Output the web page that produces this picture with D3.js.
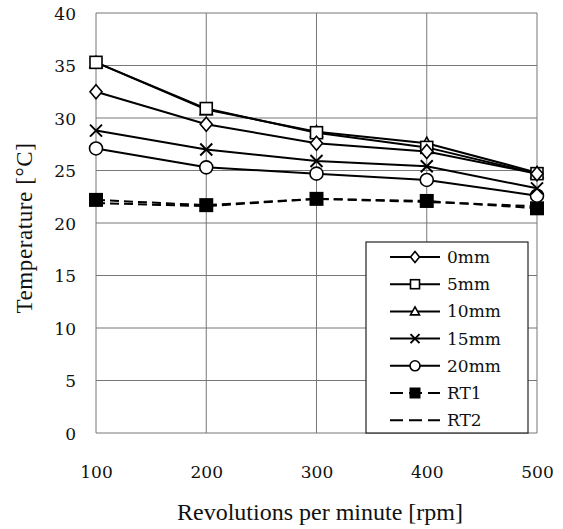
<!DOCTYPE html>
<html>
<head>
<meta charset="utf-8">
<script src="https://cdn.jsdelivr.net/npm/d3@7"></script>
<style>
  body { margin: 0; background: #fff; }
  text { font-family: "Liberation Serif", "DejaVu Serif", serif; fill: #111; }
</style>
</head>
<body>
<script>
// data
const rpm = [100, 200, 300, 400, 500];
const xTicks = [100, 200, 300, 400, 500];
const yTicks = [0, 5, 10, 15, 20, 25, 30, 35, 40];

const mm0  = [32.5, 29.4, 27.6, 26.8, 24.7];
const mm5  = [35.3, 30.9, 28.6, 27.2, 24.7];
const mm10 = [35.3, 30.8, 28.7, 27.6, 24.8];
const mm15 = [28.8, 27.0, 25.9, 25.4, 23.3];
const mm20 = [27.1, 25.3, 24.7, 24.1, 22.6];
const rt1  = [22.2, 21.7, 22.3, 22.1, 21.4];
const rt2  = [21.9, 21.6, 22.3, 22.0, 21.6];

const series = [
  { name: "0mm",  values: mm0,  marker: "diamond",  dash: null },
  { name: "5mm",  values: mm5,  marker: "square",   dash: null },
  { name: "10mm", values: mm10, marker: "triangle", dash: null },
  { name: "15mm", values: mm15, marker: "cross",    dash: null },
  { name: "20mm", values: mm20, marker: "circle",   dash: null },
  { name: "RT1",  values: rt1,  marker: "filled",   dash: "9,5" },
  { name: "RT2",  values: rt2,  marker: "none",     dash: "9,5" }
];

const W = 563, H = 529;
const m = { left: 96, right: 26, top: 13, bottom: 96 };

const svg = d3.select("body").append("svg")
  .attr("width", W).attr("height", H);

const x = d3.scaleLinear().domain([100, 500]).range([m.left, W - m.right]);
const y = d3.scaleLinear().domain([0, 40]).range([H - m.bottom, m.top]);

// grid
svg.append("g").selectAll("line.h").data(yTicks).join("line")
  .attr("x1", x(100)).attr("x2", x(500))
  .attr("y1", d => y(d)).attr("y2", d => y(d))
  .attr("stroke", "#777").attr("stroke-width", 1);
svg.append("g").selectAll("line.v").data(xTicks).join("line")
  .attr("x1", d => x(d)).attr("x2", d => x(d))
  .attr("y1", y(0)).attr("y2", y(40))
  .attr("stroke", "#777").attr("stroke-width", 1);

// axes (labels only)
const yAxis = svg.append("g").attr("transform", `translate(${x(100)},0)`)
  .call(d3.axisLeft(y).tickValues(yTicks).tickSize(0).tickPadding(20));
yAxis.select(".domain").remove();
yAxis.selectAll("text").style("font-size", "17px")
  .style("font-family", "'DejaVu Serif', serif").attr("dy", "0.36em");

const xAxis = svg.append("g").attr("transform", `translate(0,${y(0)})`)
  .call(d3.axisBottom(x).tickValues(xTicks).tickSize(0).tickPadding(33));
xAxis.select(".domain").remove();
xAxis.selectAll("text").style("font-size", "17px")
  .style("font-family", "'DejaVu Serif', serif");

svg.append("text")
  .attr("x", 320).attr("y", 520)
  .attr("text-anchor", "middle").style("font-size", "24px")
  .text("Revolutions per minute [rpm]");

svg.append("text")
  .attr("transform", `translate(32,228) rotate(-90)`)
  .attr("text-anchor", "middle").style("font-size", "23px")
  .style("letter-spacing", "0.6px")
  .text("Temperature [\u00B0C]");

// markers
function drawMarker(g, type, cx, cy, s) {
  if (type === "diamond") {
    g.append("path").attr("d", `M${cx},${cy - s - 1}L${cx + s},${cy}L${cx},${cy + s + 1}L${cx - s},${cy}Z`)
      .attr("fill", "#fff").attr("stroke", "#000").attr("stroke-width", 1.6);
  } else if (type === "square") {
    g.append("rect").attr("x", cx - s).attr("y", cy - s).attr("width", 2 * s).attr("height", 2 * s)
      .attr("fill", "#fff").attr("stroke", "#000").attr("stroke-width", 1.6);
  } else if (type === "triangle") {
    g.append("path").attr("d", `M${cx},${cy - s}L${cx + s},${cy + s - 1}L${cx - s},${cy + s - 1}Z`)
      .attr("fill", "#fff").attr("stroke", "#000").attr("stroke-width", 1.6);
  } else if (type === "cross") {
    g.append("path").attr("d", `M${cx - s},${cy - s}L${cx + s},${cy + s}M${cx - s},${cy + s}L${cx + s},${cy - s}`)
      .attr("stroke", "#000").attr("stroke-width", 2);
  } else if (type === "circle") {
    g.append("circle").attr("cx", cx).attr("cy", cy).attr("r", s + 0.5)
      .attr("fill", "#fff").attr("stroke", "#000").attr("stroke-width", 1.6);
  } else if (type === "filled") {
    g.append("rect").attr("x", cx - s - 1).attr("y", cy - s - 1).attr("width", 2 * s + 2).attr("height", 2 * s + 2)
      .attr("fill", "#000");
  }
}

const line = d3.line().x((d, i) => x(rpm[i])).y(d => y(d));

// lines first, markers after
series.forEach(s => {
  svg.append("path").datum(s.values)
    .attr("d", line).attr("fill", "none")
    .attr("stroke", "#000").attr("stroke-width", 2)
    .attr("stroke-dasharray", s.dash);
});
series.slice().reverse().forEach(s => {
  const g = svg.append("g");
  s.values.forEach((v, i) => drawMarker(g, s.marker, x(rpm[i]), y(v), 6));
});

// legend
const lg = svg.append("g").attr("transform", "translate(366,242)");
lg.append("rect").attr("width", 162).attr("height", 191)
  .attr("fill", "#fff").attr("stroke", "#222").attr("stroke-width", 1.2);
series.forEach((s, i) => {
  const yy = 15 + i * 27.2;
  lg.append("line").attr("x1", 24).attr("x2", 74).attr("y1", yy).attr("y2", yy)
    .attr("stroke", "#000").attr("stroke-width", 2)
    .attr("stroke-dasharray", s.dash ? "13,6" : null);
  drawMarker(lg, s.marker, 49, yy, 4.5);
  lg.append("text").attr("x", 81).attr("y", yy + 6)
    .style("font-size", "17px").style("font-family", "'DejaVu Serif', serif")
    .text(s.name);
});
</script>
</body>
</html>
